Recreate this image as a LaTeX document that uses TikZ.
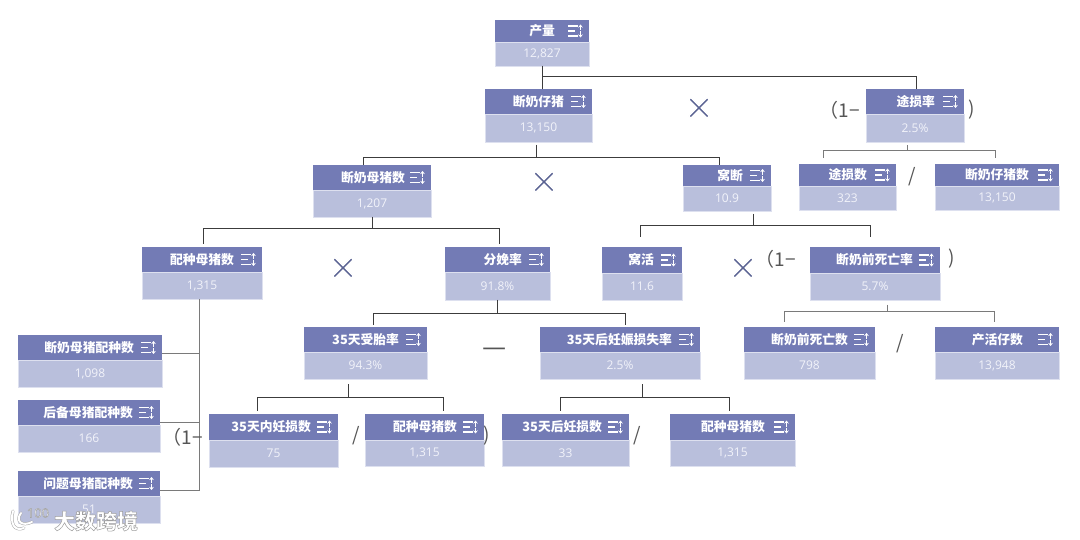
\documentclass[tikz,border=0pt]{standalone}
\usepackage{fontspec}
\setmainfont{Open Sans}
\newfontfamily\cjkfont{Noto Sans CJK SC}
\usetikzlibrary{arrows.meta}

\definecolor{headblue}{HTML}{737BB5}
\definecolor{valueblue}{HTML}{B9BFDC}
\definecolor{valuetext}{HTML}{F2F3FA}
\definecolor{cardedge}{HTML}{DDE0EF}
\definecolor{linedark}{HTML}{3C3C3C}
\definecolor{linegray}{HTML}{7A7A7A}
\definecolor{opblue}{HTML}{5B6393}
\definecolor{optextgray}{HTML}{555555}

\newcommand{\kpicard}[9][28]{%
    \pgfmathsetmacro{\cardw}{#4-#2}
    \pgfmathsetmacro{\headh}{#5-#3}
    \pgfmathsetmacro{\valueh}{#6-#5}
    \node[valuecell, minimum width=\cardw pt, minimum height=\valueh pt] (#9v) at (#2,#5) {\raisebox{-4pt}{#8}};
    \node[headcell, minimum width=\cardw pt, minimum height=\headh pt] (#9) at (#2,#3)
        {\hbox to \cardw pt{\hfill #7\hspace{#1pt}}};
    \draw[iconline] ([shift={(-21,-5)}]#9.east) -- ++(9.5,0) ([shift={(-21,0)}]#9.east) -- ++(7,0) ([shift={(-21,5)}]#9.east) -- ++(9.5,0);
    \draw[iconline, -{Stealth[length=3pt,width=4.5pt]}] ([shift={(-8.5,-0.5)}]#9.east) -- ++(0,-6);
    \draw[iconline, -{Stealth[length=3pt,width=4.5pt]}] ([shift={(-8.5,0.5)}]#9.east) -- ++(0,6);
}
\newcommand{\strokedtext}[3]{\special{pdf:literal direct 2 Tr #1 w #2 G}#3\special{pdf:literal direct 0 Tr 1 w 0 G}}

\begin{document}
\begin{tikzpicture}[
        x=1pt, y=-1pt,
        headcell/.style={fill=headblue, anchor=north west, inner sep=0pt, outer sep=0pt, text=white, font=\cjkfont\bfseries\fontsize{12.8}{13}\selectfont},
        valuecell/.style={fill=valueblue, draw=cardedge, line width=0.5pt, anchor=north west, inner sep=0pt, outer sep=0pt, text=valuetext, font=\fontsize{12}{13}\selectfont},
        iconline/.style={white, line width=1.2pt},
        darklink/.style={draw=linedark, line width=1pt},
        graylink/.style={draw=linegray, line width=1pt},
        timessign/.style={text=opblue, inner sep=0pt, font=\fontsize{47}{47}\selectfont},
        optext/.style={text=optextgray, inner sep=0pt, font=\cjkfont\fontsize{19}{19}\selectfont},
        minussign/.style={text=optextgray, inner sep=0pt, font=\cjkfont\fontsize{27}{27}\selectfont},
        markfont/.style={text=white, inner sep=0pt, font=\cjkfont\bfseries\fontsize{21}{21}\selectfont}
    ]
    \useasboundingbox (0,0) rectangle (1080,540);

    \kpicard[34]{495}{20}{589}{42}{66}{产量}{12,827}{output}
    \kpicard{485}{89}{592}{114}{142}{断奶仔猪}{13,150}{weaned}
    \kpicard[29]{866}{89}{964}{114}{142}{途损率}{2.5\%}{lossrate}
    \kpicard[29]{799}{164}{896}{186}{210}{途损数}{323}{losscount}
    \kpicard[30]{935}{164}{1059}{186}{210}{断奶仔猪数}{13,150}{weanedcount}
    \kpicard[26]{313}{165}{431}{190}{217}{断奶母猪数}{1,207}{weanedsows}
    \kpicard{683}{165}{771}{186}{211}{窝断}{10.9}{litterwean}
    \kpicard{142}{247}{262}{272}{299}{配种母猪数}{1,315}{bredsows}
    \kpicard{445}{247}{550}{272}{300}{分娩率}{91.8\%}{farrowrate}
    \kpicard{602}{247}{682}{273}{300}{窝活}{11.6}{litterlive}
    \kpicard[27]{810}{247}{940}{273}{300}{断奶前死亡率}{5.7\%}{mortrate}
    \kpicard[27]{744}{327}{875}{352}{379}{断奶前死亡数}{798}{mortcount}
    \kpicard[36]{935}{327}{1059}{352}{379}{产活仔数}{13,948}{livecount}
    \kpicard{304}{327}{427}{352}{379}{35天受胎率}{94.3\%}{conceive}
    \kpicard{540}{327}{700}{352}{379}{35天后妊娠损失率}{2.5\%}{latelossrate}
    \kpicard{18}{335}{162}{360}{387}{断奶母猪配种数}{1,098}{sowbred}
    \kpicard[27]{18}{400}{160}{425}{452}{后备母猪配种数}{166}{giltbred}
    \kpicard[27]{18}{471}{160}{496}{523}{问题母猪配种数}{51}{problembred}
    \kpicard[27]{209}{414}{338}{440}{467}{35天内妊损数}{75}{earlyloss}
    \kpicard[27]{365}{414}{484}{440}{466}{配种母猪数}{1,315}{bredearly}
    \kpicard[27]{502}{414}{629}{440}{466}{35天后妊损数}{33}{lateloss}
    \kpicard[30]{670}{414}{795}{440}{466}{配种母猪数}{1,315}{bredlate}

    \draw[darklink] (outputv.south) -- (outputv.south |- weaned.north);
    \draw[darklink] (outputv.south) -- ++(0,11) -| ([xshift=1pt]lossrate.north);
    \draw[darklink, shorten <=3pt] ([xshift=-2.5pt]weanedv.south) -- ++(0,16) -| ([xshift=-9pt]weanedsows.north);
    \draw[darklink, shorten <=3pt] ([xshift=-2.5pt]weanedv.south) -- ++(0,16) -| ([xshift=-8pt]litterwean.north);
    \draw[graylink, shorten <=3.5pt, shorten >=6pt] ([xshift=-8pt]lossratev.south) -- ++(0,9) -| ([xshift=-24.5pt]losscount.north);
    \draw[graylink, shorten <=3.5pt, shorten >=6pt] ([xshift=-8pt]lossratev.south) -- ++(0,9) -| ([xshift=-2pt]weanedcount.north);
    \draw[darklink, shorten >=3pt] (weanedsowsv.south) -- ++(0,12) -| ([xshift=1pt]bredsows.north);
    \draw[darklink, shorten >=3pt] (weanedsowsv.south) -- ++(0,12) -| ([xshift=1.5pt]farrowrate.north);
    \draw[darklink, shorten <=3pt, shorten >=10pt] ([xshift=26pt]litterweanv.south) -- ++(0,15) -| ([xshift=-2pt]litterlive.north);
    \draw[darklink, shorten <=3pt, shorten >=10pt] ([xshift=26pt]litterweanv.south) -- ++(0,15) -| ([xshift=-5pt]mortrate.north);
    \draw[graylink, shorten <=5pt, shorten >=5pt] ([xshift=12pt]mortratev.south) -- ++(0,12) -| ([xshift=-25pt]mortcount.north);
    \draw[graylink, shorten <=5pt, shorten >=5pt] ([xshift=12pt]mortratev.south) -- ++(0,12) -| ([xshift=-3pt]livecount.north);
    \draw[darklink, shorten >=2pt] (farrowratev.south) -- ++(0,14) -| ([xshift=7.5pt]conceive.north);
    \draw[darklink, shorten >=2pt] (farrowratev.south) -- ++(0,14) -| ([xshift=5pt]latelossrate.north);
    \draw[darklink, shorten <=5pt, shorten >=3pt] ([xshift=-17.5pt]conceivev.south) -- ++(0,18.5) -| ([xshift=-16.5pt]earlyloss.north);
    \draw[darklink, shorten <=5pt, shorten >=3pt] ([xshift=-17.5pt]conceivev.south) -- ++(0,18.5) -| ([xshift=18.5pt]bredearly.north);
    \draw[darklink, shorten <=5pt, shorten >=3pt] ([xshift=22pt]latelossratev.south) -- ++(0,18.5) -| ([xshift=-5.5pt]lateloss.north);
    \draw[darklink, shorten <=5pt, shorten >=3pt] ([xshift=22pt]latelossratev.south) -- ++(0,18.5) -| ([xshift=-3.5pt]bredlate.north);
    \draw[graylink] ([yshift=6pt]sowbred.south east) -| ([xshift=-2.5pt]bredsowsv.south);
    \draw[graylink] ([yshift=3pt]giltbred.south east) -| ([xshift=-2.5pt]bredsowsv.south);
    \draw[graylink] ([yshift=6pt]problembred.south east) -| ([xshift=-2.5pt]bredsowsv.south);

    \node[timessign] (times1) at (699,111) {\strokedtext{1.4}{1}{×}};
    \node[timessign] (times2) at (544,185) {\strokedtext{1.4}{1}{×}};
    \node[timessign] (times3) at (343,271) {\strokedtext{1.4}{1}{×}};
    \node[timessign] (times4) at (743,271) {\strokedtext{1.4}{1}{×}};
    \node[optext] (open1) at (840,110) {（1−};
    \node[optext] (close1) at (972,110) {)};
    \node[optext] (open2) at (776,259) {（1−};
    \node[optext] (close2) at (952,259) {)};
    \node[optext] (open3) at (183,437) {（1−};
    \node[optext] (close3) at (487,436) {)};
    \node[optext] (div1) at (912,177) {/};
    \node[optext] (div2) at (900,344) {/};
    \node[optext] (div3) at (356,436) {/};
    \node[optext] (div4) at (637,436) {/};
    \node[minussign] (minus1) at (495,352) {—};

    \node[markfont] (mark) at (96,521) {\strokedtext{0.5}{0.62}{大数跨境}};
    \draw[gray!70, line width=3pt, line cap=round] (13,511) .. controls (10,523) and (14,532) .. (24,528) (21,513) .. controls (15,521) and (22,527) .. (32,522);
    \draw[white, line width=2pt, line cap=round] (13,511) .. controls (10,523) and (14,532) .. (24,528) (21,513) .. controls (15,521) and (22,527) .. (32,522);
    \node[text=white, inner sep=0pt, font=\fontsize{13}{13}\selectfont] (marklogo) at (38,513) {\strokedtext{0.4}{0.62}{100}};
\end{tikzpicture}
\end{document}
